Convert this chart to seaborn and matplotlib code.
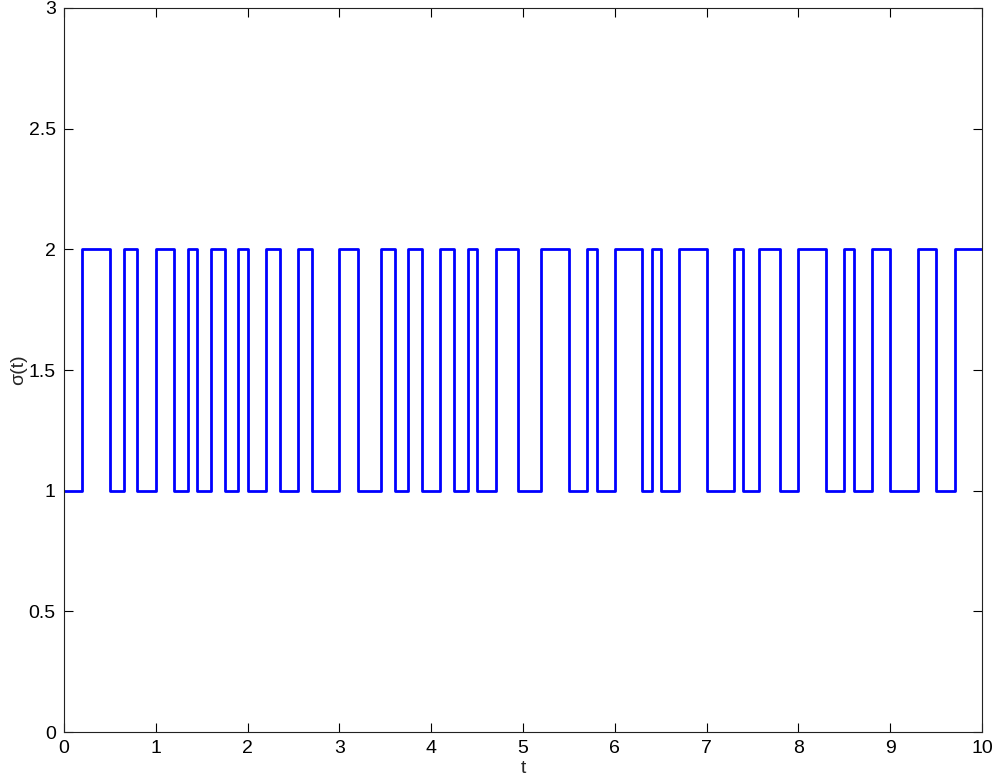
import matplotlib
matplotlib.use('Agg')
import matplotlib.pyplot as plt
import seaborn as sns

t_switch = [0.0, 0.2, 0.5, 0.65, 0.8, 1.0, 1.2, 1.35, 1.45, 1.6, 1.75,
            1.9, 2.0, 2.2, 2.35, 2.55, 2.7, 3.0, 3.2, 3.45, 3.6,
            3.75, 3.9, 4.1, 4.25, 4.4, 4.5, 4.7, 4.95, 5.2, 5.5,
            5.7, 5.8, 6.0, 6.3, 6.4, 6.5, 6.7, 7.0, 7.3, 7.4,
            7.57, 7.8, 8.0, 8.3, 8.5, 8.6, 8.8, 9.0, 9.3, 9.5,
            9.7, 10.0]
sigma = [1, 2, 1, 2, 1, 2, 1, 2, 1, 2, 1,
         2, 1, 2, 1, 2, 1, 2, 1, 2, 1,
         2, 1, 2, 1, 2, 1, 2, 1, 2, 1,
         2, 1, 2, 1, 2, 1, 2, 1, 2, 1,
         2, 1, 2, 1, 2, 1, 2, 1, 2, 1,
         2, 2]

x_ticks = [0, 1, 2, 3, 4, 5, 6, 7, 8, 9, 10]
y_ticks = [0, 0.5, 1, 1.5, 2, 2.5, 3]
y_labels = ['0', '0.5', '1', '1.5', '2', '2.5', '3']

sns.set_style('ticks')
plt.rcParams['font.family'] = ['Liberation Sans', 'DejaVu Sans']
plt.rcParams['axes.linewidth'] = 0.8

fig = plt.figure(figsize=(9.93, 7.83), dpi=100)
ax = fig.add_axes([0.0645, 0.0651, 0.9245, 0.9247])

sns.lineplot(x=t_switch, y=sigma, drawstyle='steps-post', color=(0, 0, 1),
             linewidth=2.0, estimator=None, sort=False, ax=ax)

ax.set_xlim(0, 10)
ax.set_ylim(0, 3)
ax.set_xticks(x_ticks)
ax.set_yticks(y_ticks)
ax.set_yticklabels(y_labels)
ax.tick_params(direction='in', length=6.5, width=0.8, labelsize=14,
               top=True, right=True, pad=6, colors='black')
for s in ax.spines.values():
    s.set_visible(True)
    s.set_color('#222222')

ax.set_xlabel('t', fontsize=14, labelpad=2)
ax.set_ylabel('σ(t)', fontsize=14, labelpad=1)

fig.savefig('out.png', dpi=100)
